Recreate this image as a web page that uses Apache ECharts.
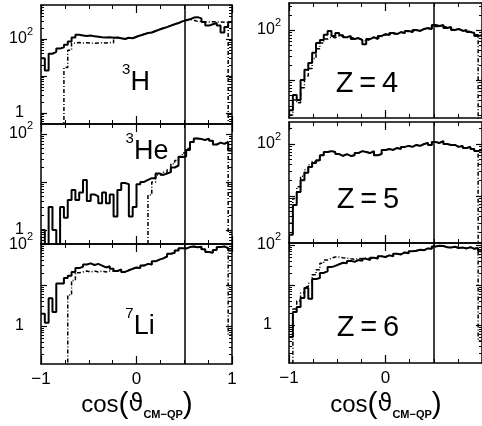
<!DOCTYPE html>
<html>
<head>
<meta charset="utf-8">
<script src="https://cdn.jsdelivr.net/npm/echarts@6/dist/echarts.min.js"></script>
<style>
  html, body { margin: 0; padding: 0; background: #fff; }
  #chart { width: 482px; height: 426px; }
</style>
</head>
<body>
<div id="chart"></div>
<script>
// Left edges of the 50 histogram bins in cos(theta_CM-QP)
const binEdges = [-1.00,-0.96,-0.92,-0.88,-0.84,-0.80,-0.76,-0.72,-0.68,-0.64,
  -0.60,-0.56,-0.52,-0.48,-0.44,-0.40,-0.36,-0.32,-0.28,-0.24,
  -0.20,-0.16,-0.12,-0.08,-0.04,0.00,0.04,0.08,0.12,0.16,
  0.20,0.24,0.28,0.32,0.36,0.40,0.44,0.48,0.52,0.56,
  0.60,0.64,0.68,0.72,0.76,0.80,0.84,0.88,0.92,0.96];

// Counts per bin: solid = measured, dashed = filtered / simulated
const h3Solid = [30,14,40,45,55,60,70,85,110,130, 125,120,125,118,115,112,110,112,108,110,
  105,100,108,105,115,125,135,145,150,165, 180,195,210,230,250,270,300,320,340,380,
  390,360,290,230,250,270,230,150,210,290];
const h3Dash = [0.01,0.01,0.01,0.01,0.01,0.01,17,50,78,80, 78,79,78,77,78,79,78,80,79,110,
  105,100,108,105,115,125,135,145,150,165, 180,195,210,230,250,270,300,320,340,320,
  300,300,290,290,295,290,290,285,280,0.01];

const he3Solid = [1,0.01,3,1,0.01,3,1.8,4.2,6.8,4.2, 6,11,4,5.5,5,3.6,6,3.6,5.5,1.9,
  6.8,9.5,9,1.9,3,9,10,11,12,12, 15,14,15,16,20,22,33,34,46,68,
  80,78,75,80,72,60,66,62,68,45];
const he3Dash = [0.01,0.01,0.01,0.01,0.01,0.01,0.01,0.01,0.01,0.01, 0.01,0.01,0.01,0.01,0.01,0.01,0.01,0.01,0.01,0.01,
  0.01,0.01,0.01,0.01,0.01,0.01,0.01,0.01,5.4,10, 14,14,16,18,24,28,34,40,50,68,
  80,78,75,80,72,60,66,62,68,0.9];

const li7Solid = [2,1.2,4.8,2.2,11,11,15,17,21,26, 28,32,34,31,33,30,27,29,25,22,
  24,21,23,25,27,26,30,33,32,38, 42,45,50,58,62,70,80,78,85,88,
  84,86,75,64,62,72,85,88,80,70];
const li7Dash = [0.01,0.01,0.01,0.01,0.01,0.01,0.01,5.7,13,20, 21,22,21,22,21,22,21,22,22,22,
  24,21,23,25,27,26,30,33,32,38, 42,45,50,58,62,70,80,78,85,88,
  84,86,75,64,62,72,85,88,80,0.6];

const z4Solid = [2.5,5,4,10,16,22,35,55,63,80, 96,76,87,79,72,76,66,69,63,52,
  66,72,66,76,83,79,87,83,91,87, 96,91,100,96,105,110,105,126,120,126,
  110,115,100,105,96,100,91,87,76,79];
const z4Dash = [2,4,3.5,7,12,17,27,42,55,66, 72,70,76,74,70,72,68,67,64,60,
  65,70,68,74,80,80,85,84,88,88, 93,92,98,97,103,106,106,118,118,120,
  112,112,102,104,98,98,92,88,80,0.01];

const z5Solid = [1.8,6.7,12,20,28,36,43,49,61,70, 73,70,64,59,64,59,61,67,73,70,
  67,73,61,64,77,80,77,84,80,88, 92,88,96,92,100,105,96,109,105,114,
  100,96,96,88,92,84,88,80,73,77];
const z5Dash = [3,9,15,24,32,40,46,49,61,70, 73,70,64,59,64,59,61,67,73,70,
  67,73,61,64,77,80,77,84,80,88, 92,88,96,92,100,105,96,109,105,114,
  100,96,96,88,92,84,88,80,73,0.01];

const z6Solid = [0.5,2.1,2.8,4.7,8.4,4.5,14,15,20,22, 28,30,33,36,35,40,38,42,40,45,
  42,48,46,52,50,55,52,60,58,65, 62,70,72,76,74,82,80,92,96,94,
  88,86,90,84,86,82,88,80,84,70];
const z6Dash = [0.01,2.5,4,6.3,9,11,18,24,35,42, 47,50,50,48,47,45,44,46,45,47,
  45,48,46,52,50,55,52,60,58,65, 62,70,72,76,74,82,80,92,96,94,
  88,86,90,84,86,82,88,80,84,0.4];

// Tick labels
const xTickLabelsLeft = [-1, 0, 1];
const xTickLabelsRight = [-1, 0];
const xMinorTicks = [-1, -0.75, -0.5, -0.25, 0, 0.25, 0.5, 0.75, 1];
const xMajorTicks = [-1, 0, 1];
const cutPosition = 0.5;

const FONT = '"Liberation Sans", Arial, Helvetica, sans-serif';

const panels = [
  { solid: h3Solid,  dash: h3Dash,  left: 41,  width: 191, top: 5,   height: 119, yMin: 0.505, yMax: 830, yLabels: [1, 100], xLabels: null },
  { solid: he3Solid, dash: he3Dash, left: 41,  width: 191, top: 124, height: 120, yMin: 0.51,  yMax: 161, yLabels: [1, 100], xLabels: null },
  { solid: li7Solid, dash: li7Dash, left: 41,  width: 191, top: 244, height: 120, yMin: 0.118, yMax: 101, yLabels: [1, 100], xLabels: xTickLabelsLeft },
  { solid: z4Solid,  dash: z4Dash,  left: 289, width: 194, top: 3,   height: 115, yMin: 1.74,  yMax: 347, yLabels: [100],    xLabels: null },
  { solid: z5Solid,  dash: z5Dash,  left: 289, width: 194, top: 122, height: 121, yMin: 1.25,  yMax: 265, yLabels: [100],    xLabels: null },
  { solid: z6Solid,  dash: z6Dash,  left: 289, width: 194, top: 243, height: 120, yMin: 0.112, yMax: 112, yLabels: [1, 100], xLabels: xTickLabelsRight }
];

function logTicks(lo, hi, minor) {
  const out = [];
  for (let d = Math.floor(Math.log10(lo)) - 1; d <= Math.ceil(Math.log10(hi)); d++) {
    const ks = minor ? [2, 3, 4, 5, 6, 7, 8, 9] : [1];
    ks.forEach(k => {
      const v = k * Math.pow(10, d);
      if (v >= lo && v <= hi) out.push(v);
    });
  }
  return out;
}

function toSteps(vals) {
  return binEdges.map((e, i) => [e, vals[i]]).concat([[1, vals[vals.length - 1]]]);
}

const black = '#000';
const grid = [], xAxis = [], yAxis = [], series = [];

panels.forEach(p => {
  const gMain = grid.length;
  grid.push({ left: p.left, top: p.top, width: p.width, height: p.height });
  const gMinor = grid.length;
  grid.push({ left: p.left, top: p.top, width: p.width, height: p.height });

  const xBase = { type: 'value', min: -1, max: 1, splitLine: { show: false } };
  const yBase = { type: 'log', logBase: 10, min: p.yMin, max: p.yMax, splitLine: { show: false } };
  const lineOn = { show: true, onZero: false, lineStyle: { color: black, width: 1.5 } };
  const lineOff = { show: false, onZero: false };

  const xi = xAxis.length;
  xAxis.push(Object.assign({}, xBase, {
    gridIndex: gMain, position: 'bottom', axisLine: lineOn,
    axisTick: { show: true, inside: true, length: 8, customValues: xMajorTicks, lineStyle: { color: black, width: 1.2 } },
    axisLabel: {
      show: !!p.xLabels, customValues: p.xLabels || [], margin: 7,
      color: black, fontFamily: FONT, fontSize: 17,
      formatter: v => (v < 0 ? '\u2212' + Math.abs(v) : String(v))
    }
  }));
  xAxis.push(Object.assign({}, xBase, {
    gridIndex: gMain, position: 'top', axisLine: lineOn,
    axisTick: { show: true, inside: true, length: 8, customValues: xMajorTicks, lineStyle: { color: black, width: 1.2 } },
    axisLabel: { show: false }
  }));
  xAxis.push(Object.assign({}, xBase, {
    gridIndex: gMinor, position: 'bottom', axisLine: lineOff,
    axisTick: { show: true, inside: true, length: 4, customValues: xMinorTicks, lineStyle: { color: black, width: 1 } },
    axisLabel: { show: false }
  }));
  xAxis.push(Object.assign({}, xBase, {
    gridIndex: gMinor, position: 'top', axisLine: lineOff,
    axisTick: { show: true, inside: true, length: 4, customValues: xMinorTicks, lineStyle: { color: black, width: 1 } },
    axisLabel: { show: false }
  }));

  const yi = yAxis.length;
  const majors = logTicks(p.yMin, p.yMax, false);
  const minors = logTicks(p.yMin, p.yMax, true);
  yAxis.push(Object.assign({}, yBase, {
    gridIndex: gMain, position: 'left', axisLine: lineOn,
    axisTick: { show: true, inside: true, length: 6, customValues: majors, lineStyle: { color: black, width: 1.2 } },
    axisLabel: {
      show: true, customValues: p.yLabels, margin: 8, color: black,
      formatter: v => (Math.round(Math.log10(v)) === 2 ? '{n|10}{s|2}' : '{o|1}'),
      rich: {
        n: { fontFamily: FONT, fontSize: 16, color: black, lineHeight: 26 },
        s: { fontFamily: FONT, fontSize: 11, color: black, lineHeight: 11, verticalAlign: 'top' },
        o: { fontFamily: FONT, fontSize: 16, color: black, lineHeight: 26, padding: [0, 9, 0, 0] }
      }
    }
  }));
  yAxis.push(Object.assign({}, yBase, {
    gridIndex: gMain, position: 'right', axisLine: lineOn,
    axisTick: { show: true, inside: true, length: 6, customValues: majors, lineStyle: { color: black, width: 1.2 } },
    axisLabel: { show: false }
  }));
  yAxis.push(Object.assign({}, yBase, {
    gridIndex: gMinor, position: 'left', axisLine: lineOff,
    axisTick: { show: true, inside: true, length: 3, customValues: minors, lineStyle: { color: black, width: 1 } },
    axisLabel: { show: false }
  }));
  yAxis.push(Object.assign({}, yBase, {
    gridIndex: gMinor, position: 'right', axisLine: lineOff,
    axisTick: { show: true, inside: true, length: 3, customValues: minors, lineStyle: { color: black, width: 1 } },
    axisLabel: { show: false }
  }));

  series.push({
    type: 'line', xAxisIndex: xi, yAxisIndex: yi, data: toSteps(p.dash), step: 'end',
    symbol: 'none', silent: true, clip: true, z: 2,
    lineStyle: { color: black, width: 1.5, type: [4, 2, 1, 2] }
  });
  series.push({
    type: 'line', xAxisIndex: xi, yAxisIndex: yi, data: toSteps(p.solid), step: 'end',
    symbol: 'none', silent: true, clip: true, z: 3,
    lineStyle: { color: black, width: 2 },
    markLine: {
      silent: true, symbol: 'none', label: { show: false },
      lineStyle: { color: black, width: 1.5, type: 'solid' },
      data: [{ xAxis: cutPosition }]
    }
  });
});

const supRich = {
  sup: { fontFamily: FONT, fontSize: 15, color: black, lineHeight: 15, verticalAlign: 'top' },
  big: { fontFamily: FONT, fontSize: 27, color: black, lineHeight: 42 }
};
const zStyle = { fontFamily: FONT, fontSize: 29, fill: black, align: 'center', verticalAlign: 'middle' };
const titleRich = {
  c: { fontFamily: FONT, fontSize: 24, color: black },
  p: { fontFamily: FONT, fontSize: 30, color: black },
  t: { fontFamily: '"DejaVu Sans", ' + FONT, fontSize: 24, color: black },
  s: { fontFamily: FONT, fontSize: 11, fontWeight: 'bold', color: black, verticalAlign: 'bottom', lineHeight: 22 }
};
const titleText = '{c|cos}{p|(}{t|\u03d1}{s|CM\u2212QP}{p|)}';

function label(x, y, text, rich) {
  return { type: 'text', x: x, y: y, z: 100, silent: true,
    style: { text: text, rich: rich, align: 'center', verticalAlign: 'middle' } };
}

const graphic = [
  label(136, 83, '{sup|3}{big|H}', supRich),
  label(147, 152, '{sup|3}{big|He}', supRich),
  label(140, 327, '{sup|7}{big|Li}', supRich),
  { type: 'text', x: 367, y: 84, z: 100, silent: true, style: Object.assign({ text: 'Z\u2009=\u20094' }, zStyle) },
  { type: 'text', x: 368, y: 200, z: 100, silent: true, style: Object.assign({ text: 'Z\u2009=\u20095' }, zStyle) },
  { type: 'text', x: 368, y: 328, z: 100, silent: true, style: Object.assign({ text: 'Z\u2009=\u20096' }, zStyle) },
  label(137, 405, titleText, titleRich),
  label(386, 405, titleText, titleRich)
];

const chart = echarts.init(document.getElementById('chart'), null, { renderer: 'canvas' });
chart.setOption({
  animation: false,
  backgroundColor: '#fff',
  grid: grid,
  xAxis: xAxis,
  yAxis: yAxis,
  series: series,
  graphic: graphic
});
</script>
</body>
</html>
